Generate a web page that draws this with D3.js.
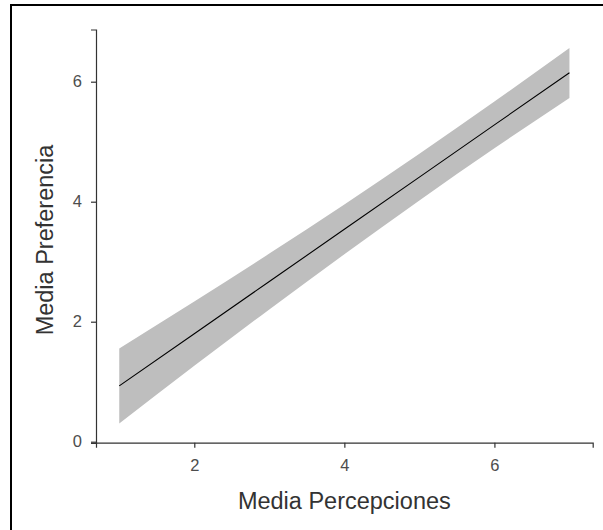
<!DOCTYPE html>
<html>
<head>
<meta charset="utf-8">
<script src="https://cdn.jsdelivr.net/npm/d3@7"></script>
<style>
  body { margin: 0; background: #fff; }
  text { font-family: "Liberation Sans", Arial, sans-serif; }
  .tick text { font-size: 16.5px; fill: #4d4d4d; }
</style>
</head>
<body>
<svg id="chart" width="603" height="530"></svg>
<script>
// regression line with confidence band
const xs    = [1, 2, 3, 4, 5, 6, 7];
const fit   = [0.93, 1.80, 2.67, 3.54, 4.41, 5.28, 6.15];
const lower = [0.305, 1.265, 2.205, 3.125, 4.02, 4.89, 5.73];
const upper = [1.555, 2.335, 3.135, 3.955, 4.80, 5.67, 6.56];
const xTicks = [2, 4, 6];
const yTicks = [0, 2, 4, 6];

const svg = d3.select("#chart");

// outer frame (only top and left edges are visible)
svg.append("rect")
  .attr("x", 11).attr("y", 5)
  .attr("width", 800).attr("height", 800)
  .attr("fill", "none")
  .attr("stroke", "#000")
  .attr("stroke-width", 2);

let x = d3.scaleLinear().domain([0.69, 7.31]).range([96, 592.7]);
let y = d3.scaleLinear().domain([-0.02, 6.87]).range([442.9, 29.5]);

let rows = xs.map((d, i) => ({ x: d, f: fit[i], lo: lower[i], hi: upper[i] }));

// confidence band
svg.append("path")
  .datum(rows)
  .attr("fill", "#bebebe")
  .attr("d", d3.area()
    .curve(d3.curveNatural)
    .x(d => x(d.x))
    .y0(d => y(d.lo))
    .y1(d => y(d.hi)));

// fitted line
svg.append("path")
  .datum(rows)
  .attr("fill", "none")
  .attr("stroke", "#000")
  .attr("stroke-width", 1.1)
  .attr("d", d3.line().x(d => x(d.x)).y(d => y(d.f)));

// x axis
let gx = svg.append("g")
  .attr("transform", "translate(0," + 442.7 + ")")
  .call(d3.axisBottom(x).tickValues(xTicks).tickSize(5).tickPadding(12).tickFormat(d3.format("d")));

// y axis
let gy = svg.append("g")
  .attr("transform", "translate(96,0)")
  .call(d3.axisLeft(y).tickValues(yTicks).tickSize(5).tickPadding(9).tickFormat(d3.format("d")));

[gx, gy].forEach(g => {
  g.select(".domain").attr("stroke", "#333").attr("stroke-width", 1.2);
  g.selectAll(".tick line").attr("stroke", "#333").attr("stroke-width", 1.2);
});

// axis titles
svg.append("text")
  .attr("x", x(4)).attr("y", 509)
  .attr("text-anchor", "middle")
  .attr("fill", "#333")
  .style("font-size", "23.5px")
  .text("Media Percepciones");

svg.append("text")
  .attr("transform", "translate(53," + 240 + ") rotate(-90)")
  .attr("text-anchor", "middle")
  .attr("fill", "#333")
  .style("font-size", "23.5px")
  .text("Media Preferencia");
</script>
</body>
</html>
